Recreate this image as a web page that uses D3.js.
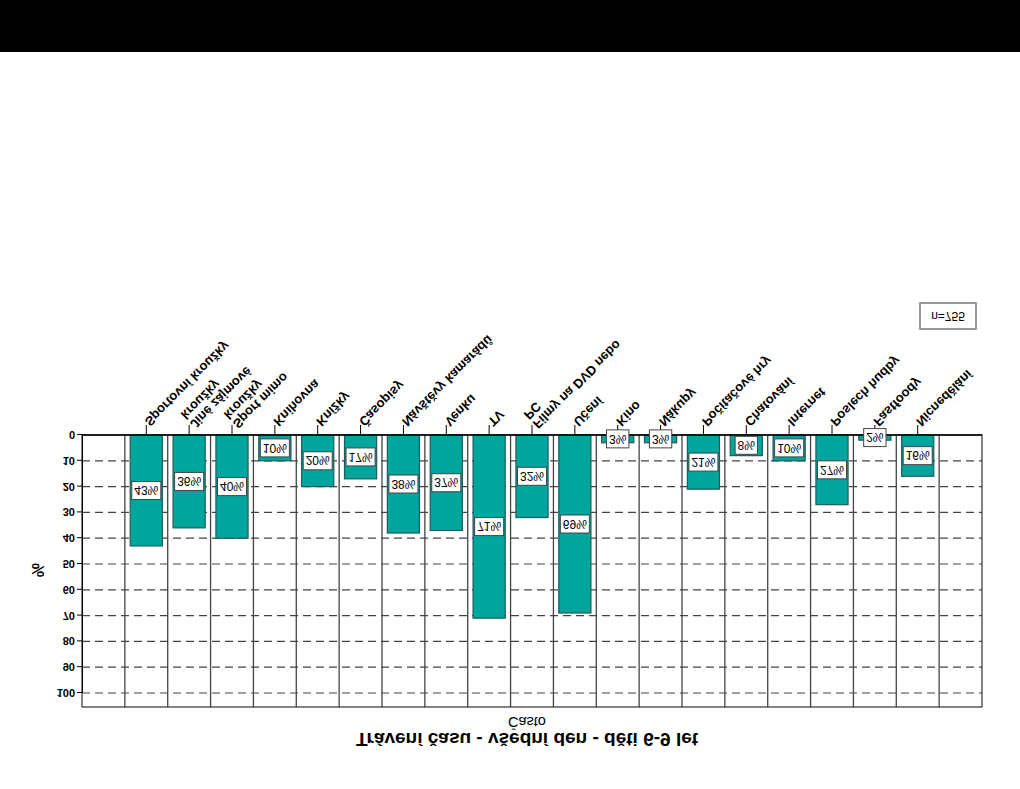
<!DOCTYPE html>
<html>
<head>
<meta charset="utf-8">
<script src="https://cdn.jsdelivr.net/npm/d3@7"></script>
<style>
  html, body { margin: 0; padding: 0; background: #fff; }
  svg { display: block; }
  text { font-family: "Liberation Sans", Arial, sans-serif; }
</style>
</head>
<body>
<svg id="chart" width="1020" height="789"></svg>
<script>
// ---- data ----
const categories = ["Sportovní kroužky","Jiné zájmové kroužky","Sport mimo kroužky","Knihovna","Knížky","Časopisy","Návštěvy kamarádů","Venku","TV","Filmy na DVD nebo PC","Učení","Kino","Nákupy","Počítačové hry","Chatování","Internet","Poslech hudby","Fastfoody","Nicnedělání"];
const labelLines = [["Sportovní kroužky"],["Jiné zájmové","kroužky"],["Sport mimo","kroužky"],["Knihovna"],["Knížky"],["Časopisy"],["Návštěvy kamarádů"],["Venku"],["TV"],["Filmy na DVD nebo","PC"],["Učení"],["Kino"],["Nákupy"],["Počítačové hry"],["Chatování"],["Internet"],["Poslech hudby"],["Fastfoody"],["Nicnedělání"]];
const values = [43,36,40,10,20,17,38,37,71,32,69,3,3,21,8,10,27,2,16];
const yTicks = [0,10,20,30,40,50,60,70,80,90,100];
const title = "Trávení času - všední den - děti 6-9 let";
const subtitle = "Často";
const yTitle = "%";
const nLabel = "n=755";

// ---- layout (the whole picture is mirrored vertically) ----
const W = 1020, H = 789;
const svg = d3.select("#chart");
const root = svg.append("g").attr("transform", `translate(0,${H}) scale(1,-1)`);

const plotL = 82, plotR = 982, plotT = 82, plotB = 354;
const nCols = categories.length + 2;
const step = (plotR - plotL) / nCols;

const x = d3.scaleBand().domain(categories)
  .range([plotL + step, plotR - step])
  .paddingInner(0.25).paddingOuter(0.125);
const y = d3.scaleLinear().domain([0, 100]).range([plotB, plotB - 258]);

// black band
root.append("rect").attr("x", 0).attr("y", 737).attr("width", W).attr("height", 52).attr("fill", "#000");

// title
root.append("text").attr("x", 527).attr("y", 56).attr("text-anchor", "middle")
  .attr("font-size", 19).attr("font-weight", "bold").text(title);
root.append("text").attr("x", 527).attr("y", 72).attr("text-anchor", "middle")
  .attr("font-size", 14.5).text(subtitle);

// plot background
root.append("rect").attr("x", plotL).attr("y", plotT).attr("width", plotR - plotL).attr("height", plotB - plotT).attr("fill", "#fff");

// grid lines
root.append("g").selectAll("line").data(yTicks.filter(d => d > 0)).join("line")
  .attr("x1", plotL).attr("x2", plotR)
  .attr("y1", d => y(d)).attr("y2", d => y(d))
  .attr("stroke", "#444").attr("stroke-width", 1.2).attr("stroke-dasharray", "8,5");

// column separators
root.append("g").selectAll("line").data(d3.range(1, nCols)).join("line")
  .attr("x1", i => plotL + i * step).attr("x2", i => plotL + i * step)
  .attr("y1", plotT).attr("y2", plotB)
  .attr("stroke", "#444").attr("stroke-width", 1.3);

// bars
root.append("g").selectAll("rect").data(categories).join("rect")
  .attr("x", d => x(d)).attr("width", x.bandwidth())
  .attr("y", (d, i) => y(values[i])).attr("height", (d, i) => y(0) - y(values[i]))
  .attr("fill", "#00A59E").attr("stroke", "#1e5e5a").attr("stroke-width", 1.2);

// frame
root.append("rect").attr("x", plotL).attr("y", plotT).attr("width", plotR - plotL).attr("height", plotB - plotT)
  .attr("fill", "none").attr("stroke", "#333").attr("stroke-width", 1.2);
root.append("line").attr("x1", plotL).attr("x2", plotR).attr("y1", y(0)).attr("y2", y(0))
  .attr("stroke", "#000").attr("stroke-width", 1.3);

// y axis
const yAxis = d3.axisLeft(y).tickValues(yTicks).tickSize(5).tickPadding(2);
const ya = root.append("g").attr("transform", `translate(${plotL},0)`).call(yAxis);
ya.select(".domain").attr("stroke", "#000");
ya.selectAll(".tick line").attr("stroke", "#000");
ya.selectAll(".tick text").attr("font-size", 11).attr("font-weight", "bold")
  .attr("font-family", "Liberation Sans, Arial, sans-serif").attr("fill", "#000");

root.append("text").attr("transform", `translate(44,219) rotate(-90)`)
  .attr("text-anchor", "middle").attr("font-size", 16).attr("font-weight", "bold").text(yTitle);

// category ticks and labels
const cat = root.append("g").selectAll("g").data(categories).join("g")
  .attr("transform", d => `translate(${x(d) + x.bandwidth() / 2},${plotB})`);
cat.append("line").attr("y1", 0).attr("y2", 10).attr("stroke", "#000");
cat.append("text")
  .attr("transform", "translate(1,11) rotate(45)")
  .attr("font-size", 13).attr("font-weight", "bold")
  .each(function(d, i) {
    const lines = labelLines[i];
    const t = d3.select(this);
    lines.forEach((ln, k) => {
      t.append("tspan").attr("x", 0)
        .attr("dy", k === 0 ? (lines.length > 1 ? "0.1em" : "0.35em") : "1.0em")
        .text(ln);
    });
  });

// value labels
const vl = root.append("g").selectAll("g").data(categories).join("g")
  .attr("transform", (d, i) => `translate(${x(d) + x.bandwidth() / 2},${(y(0) + y(values[i])) / 2})`);
vl.each(function(d, i) {
  const g = d3.select(this);
  const r = g.append("rect");
  const t = g.append("text").attr("text-anchor", "middle").attr("dy", "0.36em")
    .attr("font-size", 12).text(values[i] + "%");
  const w = t.node().getComputedTextLength() + 5;
  r.attr("x", -w / 2).attr("y", -9).attr("width", w).attr("height", 18)
    .attr("fill", "#fff").attr("stroke", "#444").attr("stroke-width", 1);
});

// n box
root.append("rect").attr("x", 920).attr("y", 460).attr("width", 56).attr("height", 26)
  .attr("fill", "#fff").attr("stroke", "#777").attr("stroke-width", 1.5);
root.append("text").attr("x", 948).attr("y", 473).attr("dy", "0.36em").attr("text-anchor", "middle")
  .attr("font-size", 12).text(nLabel);
</script>
</body>
</html>
